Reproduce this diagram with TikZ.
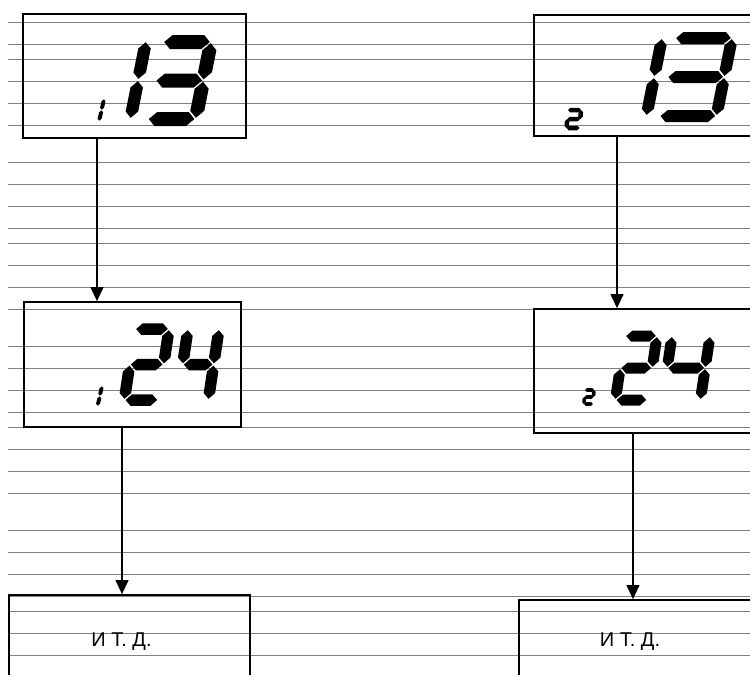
\documentclass[tikz,border=0pt]{standalone}
\usepackage{fontspec}
\setmainfont{Liberation Sans}
\usetikzlibrary{arrows.meta, positioning, calc}

% one LCD segment, horizontal (x1, x2, y) and vertical (x, y1, y2)
\newcommand{\lcdh}[3]{\fill (#1+\lg,#3) -- (#1+\lg+\lt/2,#3-\lt/2) -- (#2-\lg-\lt/2,#3-\lt/2) -- (#2-\lg,#3) -- (#2-\lg-\lt/2,#3+\lt/2) -- (#1+\lg+\lt/2,#3+\lt/2) -- cycle;}
\newcommand{\lcdv}[3]{\fill (#1,#2+\lg) -- (#1+\lt/2,#2+\lg+\lt/2) -- (#1+\lt/2,#3-\lg-\lt/2) -- (#1,#3-\lg) -- (#1-\lt/2,#3-\lg-\lt/2) -- (#1-\lt/2,#2+\lg+\lt/2) -- cycle;}
\newcommand{\lcda}{\lcdh{0}{\dw}{0}}
\newcommand{\lcdb}{\lcdv{\dw}{0}{\dh/2}}
\newcommand{\lcdc}{\lcdv{\dw}{\dh/2}{\dh}}
\newcommand{\lcdd}{\lcdh{0}{\dw}{\dh}}
\newcommand{\lcde}{\lcdv{0}{\dh/2}{\dh}}
\newcommand{\lcdf}{\lcdv{0}{0}{\dh/2}}
\newcommand{\lcdg}{\lcdh{0}{\dw}{\dh/2}}
% digit: top-left, width, height, thickness, gap, slant, segments
\newcommand{\lcddigit}[7]{%
  \begin{scope}[shift={(#1)}, xslant=#6]
    \def\dw{#2}\def\dh{#3}\def\lt{#4}\def\lg{#5}
    \foreach \s in {#7} {\csname lcd\s\endcsname}
  \end{scope}}

\begin{document}
\begin{tikzpicture}[
    x=1pt, y=-1pt,
    rule/.style={line width=1pt, black!50},
    lcdbox/.style={rectangle, draw=black, line width=1.8pt, inner sep=0pt},
    arrow/.style={-{Triangle[length=14pt, width=13pt]}, line width=1.3pt},
    etc/.style={font=\fontsize{20}{22}\selectfont, anchor=base, inner sep=0pt}
]
    \useasboundingbox (0,0) rectangle (750,675);
    \clip (0,0) rectangle (750,675);

    % ruled lines
    \foreach \y in {22,44,59,81,103,125,162,184,206,228,243,265,287,309,346,368,390,412,427,449,471,493,530,552,574,596,611,633,655}
        \draw[rule] (8,\y) -- (750,\y);

    % boxes
    \node[lcdbox, minimum width=223pt, minimum height=124pt] (box1) at (134.5,76) {};
    \node[lcdbox, minimum width=226pt, minimum height=121pt] (box2) at (647,75.5) {};
    \node[lcdbox, minimum width=217pt, minimum height=125pt] (box3) at (132.5,364.5) {};
    \node[lcdbox, minimum width=226pt, minimum height=124pt] (box4) at (647,371) {};
    \node[lcdbox, minimum width=241pt, minimum height=96pt] (box5) at (129.5,643) {};
    \node[lcdbox, minimum width=241pt, minimum height=84pt] (box6) at (639.5,642) {};

    % display 1 13
    \lcddigit{104,99}{0}{22}{4}{0.3}{0.22}{b,c}
    \lcddigit{146,41}{0}{78}{12.5}{1.2}{0.2}{b,c}
    \lcddigit{163,42}{48}{77}{14}{1.2}{0.2}{a,b,g,c,d}
    % display 2 13
    \lcddigit{568,110}{13}{18}{4.5}{0}{0.08}{a,b,g,e,d}
    \lcddigit{662,38}{0}{78}{12}{1.2}{0.2}{b,c}
    \lcddigit{675,38}{57}{78}{12}{1.2}{0.2}{a,b,g,c,d}
    % display 1 24
    \lcddigit{102,386}{0}{20}{4}{0.3}{0.22}{b,c}
    \lcddigit{135,329}{34}{71}{11.5}{1.2}{0.15}{a,b,g,e,d}
    \lcddigit{188,329}{31}{71}{11.5}{1.2}{0.15}{f,g,b,c}
    % display 2 24
    \lcddigit{585,390}{9}{14}{3.6}{0}{0.08}{a,b,g,e,d}
    \lcddigit{625,336}{32}{64}{11}{1.2}{0.15}{a,b,g,e,d}
    \lcddigit{672,336}{38}{64}{11}{1.2}{0.15}{f,g,b,c}

    % text
    \node[etc] (etc1) at (121.5,646) {И Т. Д.};
    \node[etc] (etc2) at (630,646) {И Т. Д.};

    % arrows
    \draw[arrow] ([xshift=-37.5pt]box1.south) -- ([xshift=-37.5pt]box1.south |- box3.north);
    \draw[arrow] ([xshift=-30pt]box2.south) -- ([xshift=-30pt]box2.south |- box4.north);
    \draw[arrow] ([xshift=-10.5pt]box3.south) -- ([xshift=-10.5pt]box3.south |- box5.north);
    \draw[arrow] ([xshift=-14pt]box4.south) -- ([xshift=-14pt]box4.south |- box6.north);
\end{tikzpicture}
\end{document}
